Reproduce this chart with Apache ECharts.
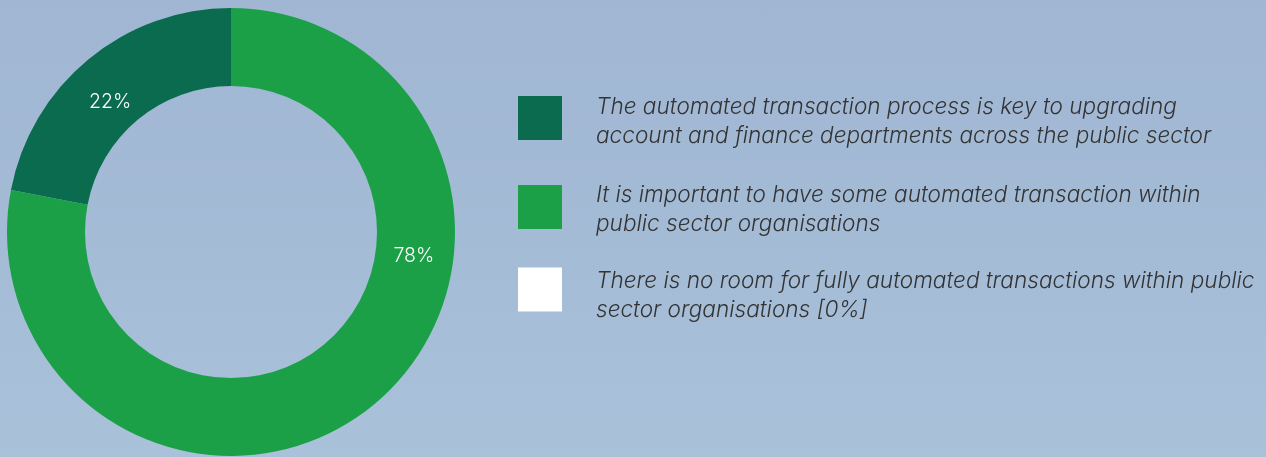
<!DOCTYPE html>
<html>
<head>
<meta charset="utf-8">
<script src="https://cdn.jsdelivr.net/npm/echarts@6/dist/echarts.min.js"></script>
<style>
  html, body { margin: 0; padding: 0; }
  #chart { width: 1266px; height: 457px; background: linear-gradient(180deg, #a0b6d3 0%, #a4bbd6 50%, #a9c1d9 100%); }
</style>
</head>
<body>
<div id="chart"></div>
<script>
const categories = [
  "The automated transaction process is key to upgrading account and finance departments across the public sector",
  "It is important to have some automated transaction within public sector organisations",
  "There is no room for fully automated transactions within public sector organisations"
];
const legendLines = [
  ["The automated transaction process is key to upgrading", "account and finance departments across the public sector"],
  ["It is important to have some automated transaction within", "public sector organisations"],
  ["There is no room for fully automated transactions within public", "sector organisations [0%]"]
];
const values = [22, 78, 0];
const colors = ["#0b6b4e", "#1ba048", "#ffffff"];

const chart = echarts.init(document.getElementById('chart'), null, { renderer: 'canvas' });

const legendTops = [85, 175, 254];
const legendSpacer = [8, 6, 13];
const textFont = {
  fontFamily: 'Inter',
  fontStyle: 'italic',
  fontWeight: 300,
  fontSize: 22.6,
  lineHeight: 29,
  color: '#333333'
};
const legends = categories.map((name, i) => ({
  orient: 'vertical',
  left: 518,
  top: legendTops[i],
  padding: 0,
  icon: 'rect',
  itemWidth: 44,
  itemHeight: 44,
  selectedMode: false,
  data: [name],
  formatter: () => '{s| }\n{t|' + legendLines[i][0] + '}\n{t|' + legendLines[i][1] + '}',
  textStyle: Object.assign({}, textFont, {
    padding: [0, 0, 0, 29],
    rich: {
      s: { fontSize: 1, lineHeight: legendSpacer[i] },
      t: textFont
    }
  })
}));

chart.setOption({
  animation: false,
  legend: legends,
  series: [{
    type: 'pie',
    center: [231, 232],
    radius: [146, 224],
    startAngle: 90,
    clockwise: false,
    silent: true,
    avoidLabelOverlap: false,
    label: {
      show: true,
      position: 'inside',
      color: '#ffffff',
      fontFamily: 'Inter',
      fontWeight: 300,
      fontSize: 19.5,
      formatter: p => p.value + '%'
    },
    labelLine: { show: false },
    labelLayout: function (p) {
      if (p.dataIndex === 0) return { dx: -1, dy: 15 };
      if (p.dataIndex === 1) return { dx: 63, dy: -121 };
      return {};
    },
    data: categories.map((name, i) => ({
      name: name,
      value: values[i],
      itemStyle: { color: colors[i] },
      label: values[i] === 0 ? { show: false } : undefined
    }))
  }]
});
</script>
</body>
</html>
